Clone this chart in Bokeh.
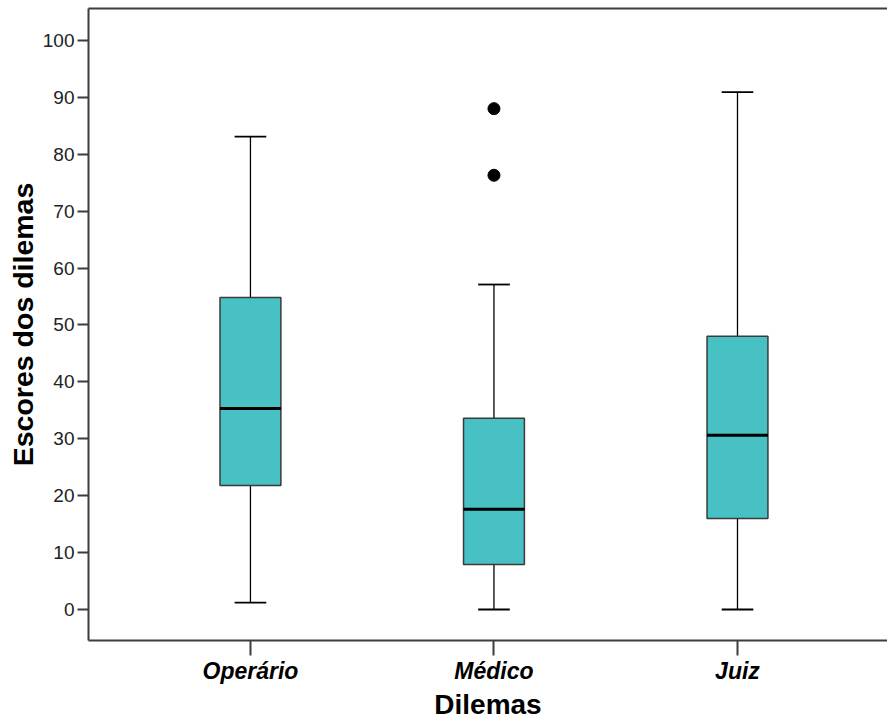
from bokeh.plotting import figure
from bokeh.models import Range1d, FixedTicker, LinearAxis, ColumnDataSource
from bokeh.embed import file_html
from bokeh.resources import INLINE

# ---- data ----
categories = ["Operário", "Médico", "Juiz"]
lower_whisker = [1.2, 0.0, 0.0]
q1 = [21.8, 7.9, 16.0]
median = [35.3, 17.6, 30.6]
q3 = [54.8, 33.6, 48.0]
upper_whisker = [83.1, 57.1, 90.9]
outlier_category = ["Médico", "Médico"]
outlier_value = [88.0, 76.3]
y_ticks = [0, 10, 20, 30, 40, 50, 60, 70, 80, 90, 100]

# ---- layout / style ----
FONT = "Liberation Sans"
BOX_FILL = "#47c1c4"
AXIS_COLOR = "#3c3c3c"
BOX_W = 0.25
CAP_W = 0.13

pos = {c: i + 1 for i, c in enumerate(categories)}
xs = [pos[c] for c in categories]

box_src = ColumnDataSource(dict(
    x=xs, q1=q1, q3=q3, med=median, lo=lower_whisker, hi=upper_whisker,
    bl=[x - BOX_W / 2 for x in xs], br=[x + BOX_W / 2 for x in xs],
    cl=[x - CAP_W / 2 for x in xs], cr=[x + CAP_W / 2 for x in xs],
))
out_src = ColumnDataSource(dict(x=[pos[c] for c in outlier_category], y=outlier_value))

p = figure(width=887, height=722, output_backend="svg", toolbar_location=None,
           x_range=Range1d(0.335, 3.616), y_range=Range1d(-5.45, 105.6),
           min_border_left=88, min_border_right=0, min_border_top=8, min_border_bottom=82)
p.outline_line_color = None
p.xgrid.visible = False
p.ygrid.visible = False
p.background_fill_color = "white"
p.border_fill_color = "white"

# whiskers
p.segment(x0="x", y0="q3", x1="x", y1="hi", source=box_src, line_color="black", line_width=1.3)
p.segment(x0="x", y0="lo", x1="x", y1="q1", source=box_src, line_color="black", line_width=1.3)
p.segment(x0="cl", y0="hi", x1="cr", y1="hi", source=box_src, line_color="black", line_width=1.8)
p.segment(x0="cl", y0="lo", x1="cr", y1="lo", source=box_src, line_color="black", line_width=1.8)
# boxes
p.vbar(x="x", width=BOX_W, bottom="q1", top="q3", source=box_src,
       fill_color=BOX_FILL, line_color="#3a3a3a", line_width=1.5)
# medians
p.segment(x0="bl", y0="med", x1="br", y1="med", source=box_src, line_color="black", line_width=3)
# outliers
p.scatter(x="x", y="y", source=out_src, size=12, marker="circle",
          fill_color="black", line_color="black")

# axes
p.xaxis.ticker = FixedTicker(ticks=xs)
p.xaxis.major_label_overrides = {x: c for x, c in zip(xs, categories)}
p.yaxis.ticker = FixedTicker(ticks=y_ticks)
for ax in (p.xaxis, p.yaxis):
    ax.axis_line_color = AXIS_COLOR
    ax.axis_line_width = 2
    ax.major_tick_line_color = AXIS_COLOR
    ax.major_tick_line_width = 2
    ax.major_tick_in = 0
    ax.minor_tick_line_color = None
    ax.axis_label_text_font = FONT
    ax.axis_label_text_font_style = "bold"
    ax.axis_label_text_color = "black"
    ax.major_label_text_font = FONT
    ax.major_label_text_color = "#222222"

p.xaxis.axis_label = "Dilemas"
p.xaxis.axis_label_text_font_size = "28px"
p.xaxis.major_label_text_font_size = "23px"
p.xaxis.major_label_text_font_style = "bold italic"
p.xaxis.major_label_text_color = "black"
p.xaxis.major_tick_out = 15
p.xaxis.major_label_standoff = 2
p.xaxis.axis_label_standoff = 2

p.yaxis.axis_label = "Escores dos dilemas"
p.yaxis.axis_label_text_font_size = "28.5px"
p.yaxis.major_label_text_font_size = "19px"
p.yaxis.major_tick_out = 11
p.yaxis.major_label_standoff = 3
p.yaxis.axis_label_standoff = 1

# top border
top = LinearAxis(ticker=FixedTicker(ticks=[]), axis_line_color=AXIS_COLOR, axis_line_width=2,
                 major_tick_out=0, major_tick_in=0, minor_tick_out=0, minor_tick_in=0,
                 major_label_standoff=0, major_label_text_font_size="0px")
p.add_layout(top, "above")

open("out.html", "w").write(file_html(p, INLINE))
